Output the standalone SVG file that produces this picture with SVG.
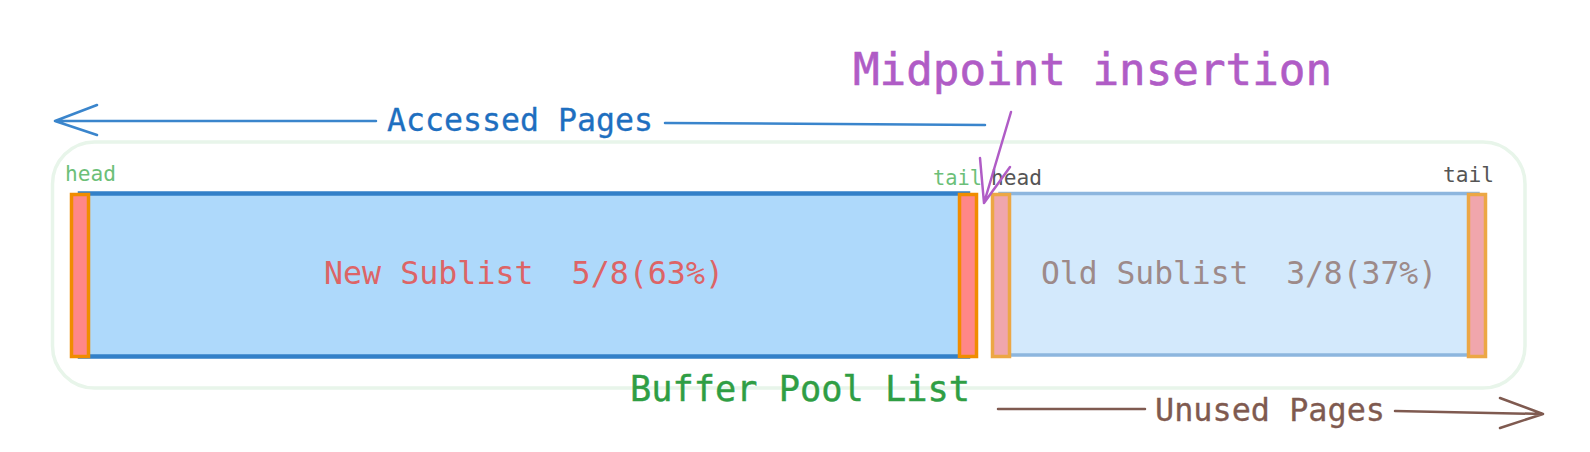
<svg xmlns="http://www.w3.org/2000/svg" width="1590" height="452" viewBox="0 0 1590 452">
  <defs>
    <style>
      text { font-family: "DejaVu Sans Mono", "Liberation Mono", monospace; }
      .big { font-size: 31.5px; }
      .small { font-size: 21px; }
      .markNew { fill: #ff8787; stroke: #f08c00; stroke-width: 3.5; }
      .markOld { fill: #f0a6ac; stroke: #eca745; stroke-width: 3.5; }
      .conn { fill: none; stroke-width: 2.5; stroke-linecap: round; stroke-linejoin: round; }
    </style>
  </defs>
  <rect width="1590" height="452" fill="#ffffff"/>

  <g id="buffer-pool-list">
    <rect x="52.5" y="142" width="1472.5" height="246" rx="42" fill="none" stroke="#e8f5ea" stroke-width="3.5"/>
    <text x="630" y="401" font-size="35" fill="#2f9e44" stroke="#2f9e44" stroke-width="0.4" textLength="340" lengthAdjust="spacingAndGlyphs">Buffer Pool List</text>
  </g>

  <g id="new-sublist">
    <rect x="80" y="193.5" width="888" height="163" fill="#aed9fb" stroke="#3380c8" stroke-width="4.5"/>
    <text class="big" x="524" y="284" text-anchor="middle" fill="#dd6466" textLength="400" lengthAdjust="spacingAndGlyphs" xml:space="preserve">New Sublist  5/8(63%)</text>
  </g>

  <g id="new-head">
    <rect class="markNew" x="71.5" y="194.5" width="17" height="162"/>
    <text class="small" x="65" y="181" fill="#6cbf78" textLength="51" lengthAdjust="spacingAndGlyphs">head</text>
  </g>

  <g id="new-tail">
    <rect class="markNew" x="959.5" y="194.5" width="17" height="162"/>
    <text class="small" x="933" y="185" fill="#6cbf78" textLength="49" lengthAdjust="spacingAndGlyphs">tail</text>
  </g>

  <g id="old-sublist">
    <rect x="1000" y="193.5" width="478" height="161.5" fill="#d3e9fc" stroke="#8db6de" stroke-width="3.5"/>
    <text class="big" x="1239" y="284" text-anchor="middle" fill="#9d8a89" textLength="396" lengthAdjust="spacingAndGlyphs" xml:space="preserve">Old Sublist  3/8(37%)</text>
  </g>

  <g id="old-head">
    <rect class="markOld" x="992.5" y="194.5" width="17" height="162"/>
    <text class="small" x="991" y="185" fill="#555555" textLength="51" lengthAdjust="spacingAndGlyphs">head</text>
  </g>

  <g id="old-tail">
    <rect class="markOld" x="1468.5" y="194.5" width="17" height="162"/>
    <text class="small" x="1443" y="182" fill="#555555" textLength="51" lengthAdjust="spacingAndGlyphs">tail</text>
  </g>

  <g id="midpoint-label">
    <text x="853" y="85" font-size="44" fill="#b05cc6" stroke="#b05cc6" stroke-width="0.6" textLength="479" lengthAdjust="spacingAndGlyphs">Midpoint insertion</text>
  </g>

  <g id="connectors">
    <g id="accessed-pages">
      <path class="conn" stroke="#3a85cc" d="M985 125 L665 123 M376 121 L55 121 M97 105 L55 121 L97 135"/>
      <text class="big" x="387" y="131" fill="#1e6fc0" stroke="#1e6fc0" stroke-width="0.3" textLength="266" lengthAdjust="spacingAndGlyphs">Accessed Pages</text>
    </g>
    <g id="unused-pages">
      <path class="conn" stroke="#7f5a50" d="M998 409 L1145 409 M1395 411 L1543 414 M1500 398 L1543 414 L1500 428"/>
      <text class="big" x="1155" y="421" fill="#7f5a50" stroke="#7f5a50" stroke-width="0.3" textLength="230" lengthAdjust="spacingAndGlyphs">Unused Pages</text>
    </g>
    <g id="midpoint-arrow">
      <path class="conn" stroke="#b05cc6" stroke-width="4.5" d="M1011 112 L984 203 M980 158 L984 203 L1010 167"/>
    </g>
  </g>
</svg>
